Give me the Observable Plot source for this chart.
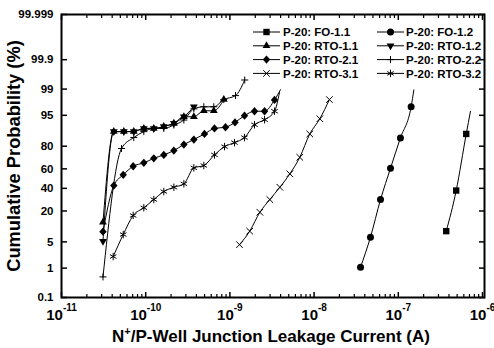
<!DOCTYPE html>
<html><head><meta charset="utf-8">
<script src="https://cdn.jsdelivr.net/npm/d3@7"></script>
<script src="https://cdn.jsdelivr.net/npm/@observablehq/plot@0.6"></script>
<style>
html,body{margin:0;padding:0;background:#fff;}
#chart{width:494px;height:348px;}
</style></head><body><div id="chart"></div>
<script>
// ---------- data (current in A, cumulative probability in %) ----------
const seriesNames = ["P-20: FO-1.1","P-20: FO-1.2","P-20: RTO-1.1","P-20: RTO-1.2",
                     "P-20: RTO-2.1","P-20: RTO-2.2","P-20: RTO-3.1","P-20: RTO-3.2"];

const fo11X = [3.71e-7, 4.87e-7, 6.41e-7];
const fo11P = [8.6, 37.8, 87.7];
const fo11Tail = [7.2e-7, 96.0];

const fo12X = [3.56e-8, 4.67e-8, 6.15e-8, 8.08e-8, 1.06e-7, 1.42e-7];
const fo12P = [1.06, 6.4, 29.3, 60.6, 85.5, 96.9];
const fo12Tail = [1.53e-7, 98.94];

const rto11X = [3.11e-11, 4.18e-11, 5.5e-11, 7.22e-11, 9.5e-11, 1.248e-10, 1.64e-10, 2.16e-10, 2.84e-10, 3.73e-10, 4.9e-10, 6.44e-10, 8.46e-10];
const rto11P = [12.8, 88.9, 88.9, 88.9, 90.4, 90.4, 91.2, 92.5, 94.6, 94.6, 96.1, 96.1, 98.0];

const rto12X = [3.11e-11, 4.18e-11, 5.5e-11, 7.22e-11, 9.5e-11, 1.248e-10, 1.64e-10, 2.16e-10, 2.84e-10, 3.73e-10];
const rto12P = [5.2, 88.9, 88.9, 88.9, 90.4, 90.4, 91.2, 92.5, 94.6, 96.9];

const rto21X = [3.11e-11, 4.18e-11, 5.41e-11, 7.1e-11, 9.5e-11, 1.248e-10, 1.64e-10, 2.16e-10, 2.84e-10, 3.73e-10, 4.99e-10, 6.56e-10, 8.87e-10, 1.15e-9, 1.49e-9, 1.96e-9, 2.58e-9, 3.39e-9];
const rto21P = [8.4, 42.8, 53.9, 62.6, 65.9, 70.1, 73.1, 76.7, 81.2, 84.5, 87.7, 90.4, 90.9, 92.8, 94.9, 96.0, 96.0, 97.96];
const rto21Tail = [3.99e-9, 98.96];

const rto22X = [3.11e-11, 5.16e-11, 7.22e-11, 9.5e-11, 1.248e-10, 1.64e-10, 2.16e-10, 2.84e-10, 3.73e-10, 4.9e-10, 6.44e-10, 8.46e-10, 1.166e-9, 1.5e-9];
const rto22P = [0.53, 78.3, 85.7, 88.9, 90.4, 90.4, 91.8, 93.6, 96.5, 96.9, 96.9, 98.0, 98.45, 99.48];

const rto31X = [1.3e-9, 1.72e-9, 2.27e-9, 2.98e-9, 3.92e-9, 5.15e-9, 6.76e-9, 8.89e-9, 1.17e-8, 1.52e-8];
const rto31P = [4.3, 8.6, 19.1, 29.3, 41.1, 54.9, 71.0, 87.7, 94.0, 98.0];

const rto32X = [4.11e-11, 5.41e-11, 7.1e-11, 9.5e-11, 1.248e-10, 1.64e-10, 2.16e-10, 2.84e-10, 3.73e-10, 4.9e-10, 6.56e-10, 8.64e-10, 1.134e-9, 1.49e-9, 1.96e-9, 2.58e-9, 3.39e-9];
const rto32P = [2.14, 7.3, 16.9, 22.4, 29.3, 36.8, 41.1, 44.6, 61.0, 63.3, 73.1, 79.7, 82.5, 85.7, 91.9, 93.7, 96.0];
const rto32Tail = [3.88e-9, 98.73];

const xMajorTicks = [1e-11, 1e-10, 1e-9, 1e-8, 1e-7, 1e-6];
const xMinorMantissas = [2, 3, 4, 5, 6, 7, 8, 9];
const yTickValues = [0.1, 1, 5, 20, 40, 60, 80, 95, 99, 99.9, 99.999];
const yTickLabels = ["0.1", "1", "5", "20", "40", "60", "80", "95", "99", "99.9", "99.999"];

// ---------- helpers ----------
function probit(p) {
  const a = [-3.969683028665376e+01, 2.209460984245205e+02, -2.759285104469687e+02, 1.383577518672690e+02, -3.066479806614716e+01, 2.506628277459239e+00];
  const b = [-5.447609879822406e+01, 1.615858368580409e+02, -1.556989798598866e+02, 6.680131188771972e+01, -1.328068155288572e+01];
  const c = [-7.784894002430293e-03, -3.223964580411365e-01, -2.400758277161838e+00, -2.549732539343734e+00, 4.374664141464968e+00, 2.938163982698783e+00];
  const d = [7.784695709041462e-03, 3.224671290700398e-01, 2.445134137142996e+00, 3.754408661907416e+00];
  const plow = 0.02425, phigh = 1 - plow;
  if (p < plow) {
    const q = Math.sqrt(-2 * Math.log(p));
    return (((((c[0]*q+c[1])*q+c[2])*q+c[3])*q+c[4])*q+c[5]) / ((((d[0]*q+d[1])*q+d[2])*q+d[3])*q+1);
  }
  if (p <= phigh) {
    const q = p - 0.5, r = q*q;
    return (((((a[0]*r+a[1])*r+a[2])*r+a[3])*r+a[4])*r+a[5])*q / (((((b[0]*r+b[1])*r+b[2])*r+b[3])*r+b[4])*r+1);
  }
  const q = Math.sqrt(-2 * Math.log(1 - p));
  return -(((((c[0]*q+c[1])*q+c[2])*q+c[3])*q+c[4])*q+c[5]) / ((((d[0]*q+d[1])*q+d[2])*q+d[3])*q+1);
}
const Z = pct => probit(pct / 100);

const symTriangleDown = {
  draw(ctx, size) {
    const y = -Math.sqrt(size / (Math.sqrt(3) * 3));
    ctx.moveTo(0, -y * 2);
    ctx.lineTo(-Math.sqrt(3) * y, y);
    ctx.lineTo(Math.sqrt(3) * y, y);
    ctx.closePath();
  }
};
const symDiamond = {
  draw(ctx, size) {
    const h = Math.sqrt(size / 2);
    ctx.moveTo(0, -h * 1.07);
    ctx.lineTo(h * 0.95, 0);
    ctx.lineTo(0, h * 1.07);
    ctx.lineTo(-h * 0.95, 0);
    ctx.closePath();
  }
};

const styles = [
  {symbol: d3.symbolSquare, r: 3.6, filled: true},
  {symbol: d3.symbolCircle, r: 3.5, filled: true},
  {symbol: d3.symbolTriangle, r: 2.9, filled: true},
  {symbol: symTriangleDown, r: 2.9, filled: true},
  {symbol: symDiamond, r: 3.1, filled: true},
  {symbol: d3.symbolPlus, r: 2.4, filled: false},
  {symbol: d3.symbolTimes, r: 3.1, filled: false},
  {symbol: d3.symbolAsterisk, r: 3.5, filled: false}
];

const seriesData = [
  [fo11X, fo11P, fo11Tail], [fo12X, fo12P, fo12Tail],
  [rto11X, rto11P, null], [rto12X, rto12P, null],
  [rto21X, rto21P, rto21Tail], [rto22X, rto22P, null],
  [rto31X, rto31P, null], [rto32X, rto32P, rto32Tail]
];

const xMinorTicks = xMajorTicks.slice(0, -1).flatMap(d => xMinorMantissas.map(m => m * d));
const yTickZ = yTickValues.map(Z);
const yFormat = z => { const i = yTickZ.findIndex(v => Math.abs(v - z) < 1e-9); return i >= 0 ? yTickLabels[i] : ""; };

// ---------- marks ----------
const marks = [];
seriesData.forEach(([xs, ps, tail]) => {
  const pts = xs.map((x, j) => ({x, p: ps[j]}));
  const linePts = tail ? pts.concat([{x: tail[0], p: tail[1]}]) : pts;
  marks.push(Plot.line(linePts, {x: "x", y: d => Z(d.p), curve: "monotone-x", stroke: "black", strokeWidth: 1}));
});
seriesData.forEach(([xs, ps], i) => {
  const pts = xs.map((x, j) => ({x, p: ps[j]}));
  const st = styles[i];
  marks.push(Plot.dot(pts, {
    x: "x", y: d => Z(d.p), symbol: st.symbol, r: st.r,
    fill: st.filled ? "black" : "none", stroke: st.filled ? "none" : "black", strokeWidth: 1
  }));
});

marks.push(
  Plot.axisX({anchor: "bottom", ticks: xMajorTicks, tickSize: 0, tickPadding: 12, label: null,
    tickFormat: d => "10^" + Math.round(Math.log10(d)), fontSize: 15, fill: "black", ariaLabel: "xlabels"}),
  Plot.axisX({anchor: "bottom", ticks: xMajorTicks, tickSize: -5, tickFormat: () => "", label: null, strokeWidth: 1.5, stroke: "black"}),
  Plot.axisX({anchor: "bottom", ticks: xMinorTicks, tickSize: -3, tickFormat: () => "", label: null, strokeWidth: 1.2, stroke: "black"}),
  Plot.axisX({anchor: "top", ticks: xMajorTicks, tickSize: -5, tickFormat: () => "", label: null, strokeWidth: 1.5, stroke: "black"}),
  Plot.axisX({anchor: "top", ticks: xMinorTicks, tickSize: -3, tickFormat: () => "", label: null, strokeWidth: 1.2, stroke: "black"}),
  Plot.axisY({anchor: "left", ticks: yTickZ, tickSize: 0, tickPadding: 8, tickFormat: yFormat, label: null, fontSize: 11.5, fill: "black"}),
  Plot.axisY({anchor: "left", ticks: yTickZ, tickSize: -6, tickFormat: () => "", label: null, strokeWidth: 1.5, stroke: "black"}),
  Plot.axisY({anchor: "right", ticks: yTickZ, tickSize: -6, tickFormat: () => "", label: null, strokeWidth: 1.5, stroke: "black"}),
  Plot.frame({strokeWidth: 2, stroke: "black"})
);

const svg = Plot.plot({
  width: 494, height: 348,
  marginLeft: 61, marginRight: 10, marginTop: 14, marginBottom: 51,
  style: {fontFamily: "'Liberation Sans', Arial, sans-serif", fontWeight: "bold", color: "black", background: "white", overflow: "visible"},
  x: {type: "log", domain: [1e-11, 1e-6], range: [61, 482], label: null},
  y: {type: "linear", domain: [Z(0.1), Z(99.999)], label: null},
  marks
});
document.getElementById("chart").append(svg);

// ---------- superscript x tick labels ----------
const sel = d3.select(svg);
sel.selectAll("text").each(function() {
  const t = this.textContent;
  if (t.startsWith("10^")) {
    const exp = t.slice(3).replace("\u2212", "-");
    const el = d3.select(this);
    el.text(null).attr("font-size", 15).attr("y", null);
    el.append("tspan").attr("dy", 10.6).text("10");
    el.append("tspan").attr("dy", -9).attr("font-size", 10).text(exp);
  } else if (yTickLabels.includes(t)) {
    d3.select(this).attr("font-size", 11.5);
  }
});

// ---------- axis titles ----------
const xt = sel.append("text").attr("x", 271).attr("y", 342).attr("text-anchor", "middle")
  .attr("font-size", 17).attr("font-weight", "bold").attr("fill", "black");
xt.append("tspan").text("N");
xt.append("tspan").attr("dy", -7).attr("font-size", 11).text("+");
xt.append("tspan").attr("dy", 7).text("/P-Well Junction Leakage Current (A)");

sel.append("text").attr("transform", "translate(19.5,156) rotate(-90)").attr("text-anchor", "middle")
  .attr("font-size", 18.3).attr("font-weight", "bold").attr("fill", "black")
  .text("Cumulative Probability (%)");

// ---------- legend ----------
const legCols = [{x1: 253, x2: 280, tx: 283}, {x1: 377, x2: 404, tx: 406}];
const legRows = [32, 45.8, 59.6, 73.4];
const leg = sel.append("g").attr("font-size", 11.5).attr("font-weight", "bold").attr("text-anchor", "start");
seriesNames.forEach((name, i) => {
  const c = legCols[i % 2], y = legRows[Math.floor(i / 2)], st = styles[i];
  leg.append("line").attr("x1", c.x1).attr("x2", c.x2).attr("y1", y).attr("y2", y).attr("stroke", "black").attr("stroke-width", 1);
  leg.append("path")
    .attr("d", d3.symbol(st.symbol, st.r * st.r * Math.PI)())
    .attr("transform", `translate(${(c.x1 + c.x2) / 2},${y})`)
    .attr("fill", st.filled ? "black" : "none").attr("stroke", st.filled ? "none" : "black").attr("stroke-width", 1);
  leg.append("text").attr("x", c.tx).attr("y", y).attr("dy", "0.36em").attr("text-anchor", "start").attr("fill", "black").text(name);
});
</script>
</body></html>
